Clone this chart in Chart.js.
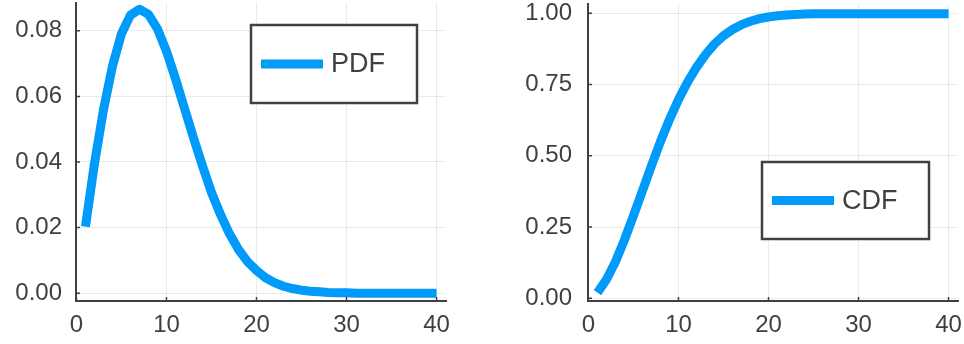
<!DOCTYPE html>
<html>
<head>
<meta charset="utf-8">
<script src="https://cdn.jsdelivr.net/npm/chart.js@4/dist/chart.umd.min.js"></script>
<style>
  html, body { margin: 0; padding: 0; background: #ffffff; }
  #wrap { position: relative; width: 964px; height: 344px; overflow: hidden; }
  .panel { position: absolute; top: 0; width: 482px; height: 344px; }
</style>
</head>
<body>
<div id="wrap">
  <div class="panel" style="left:0"><canvas id="pdfChart" width="482" height="344"></canvas></div>
  <div class="panel" style="left:482px"><canvas id="cdfChart" width="482" height="344"></canvas></div>
</div>
<script>
// sample points
const xValues = [1, 2, 3, 4, 5, 6, 7, 8, 9, 10,
                 11, 12, 13, 14, 15, 16, 17, 18, 19, 20,
                 21, 22, 23, 24, 25, 26, 27, 28, 29, 30,
                 31, 32, 33, 34, 35, 36, 37, 38, 39, 40];

const pdfValues = [0.0203, 0.0395, 0.0559, 0.0692, 0.0791, 0.0848, 0.0866, 0.0850, 0.0806, 0.0738,
                   0.0654, 0.0564, 0.0474, 0.0388, 0.0307, 0.0240, 0.0181, 0.0133, 0.0096, 0.0069,
                   0.0047, 0.0032, 0.0021, 0.0014, 0.0009, 0.0006, 0.0004, 0.0002, 0.0001, 0.0001,
                   0.0000, 0.0000, 0.0000, 0.0000, 0.0000, 0.0000, 0.0000, 0.0000, 0.0000, 0.0000];

const cdfValues = [0.020, 0.066, 0.128, 0.205, 0.290, 0.377, 0.465, 0.550, 0.627, 0.697,
                   0.758, 0.810, 0.855, 0.892, 0.921, 0.943, 0.960, 0.972, 0.981, 0.987,
                   0.991, 0.994, 0.996, 0.997, 0.998, 0.998, 0.998, 0.998, 0.998, 0.998,
                   0.998, 0.998, 0.998, 0.998, 0.998, 0.998, 0.998, 0.998, 0.998, 0.998];

// axis ticks
const xTicks = [0, 10, 20, 30, 40];
const pdfTicks = [0.00, 0.02, 0.04, 0.06, 0.08];
const cdfTicks = [0.00, 0.25, 0.50, 0.75, 1.00];

const LINE = '#009AFA';
const INK = '#404040';
const GRID = 'rgba(0,0,0,0.08)';
const FONT = "'Liberation Sans', Arial, Helvetica, sans-serif";

function points(ys) {
  return xValues.map((x, i) => ({ x: x, y: ys[i] }));
}

// short tick marks pointing into the plot area
const innerTicks = {
  id: 'innerTicks',
  afterDraw(chart) {
    const { ctx, chartArea: a, scales: { x, y } } = chart;
    ctx.save();
    ctx.strokeStyle = INK;
    ctx.lineWidth = 1.5;
    ctx.beginPath();
    x.ticks.forEach(t => {
      const px = x.getPixelForValue(t.value);
      ctx.moveTo(px, a.bottom);
      ctx.lineTo(px, a.bottom - 4);
    });
    y.ticks.forEach(t => {
      const py = y.getPixelForValue(t.value);
      ctx.moveTo(a.left, py);
      ctx.lineTo(a.left + 4, py);
    });
    ctx.stroke();
    ctx.restore();
  }
};

// framed legend floating inside the plot area
const boxLegend = {
  id: 'boxLegend',
  afterDraw(chart, args, opts) {
    const { ctx } = chart;
    const { left, top, width, height } = opts;
    const label = chart.data.datasets[0].label;
    ctx.save();
    ctx.fillStyle = '#ffffff';
    ctx.fillRect(left, top, width, height);
    ctx.strokeStyle = INK;
    ctx.lineWidth = 2.5;
    ctx.strokeRect(left, top, width, height);
    const cy = top + height / 2;
    ctx.strokeStyle = LINE;
    ctx.lineWidth = 9;
    ctx.lineCap = 'butt';
    ctx.beginPath();
    ctx.moveTo(left + 10, cy);
    ctx.lineTo(left + 72, cy);
    ctx.stroke();
    ctx.fillStyle = INK;
    ctx.font = '27px ' + FONT;
    ctx.textAlign = 'left';
    ctx.textBaseline = 'middle';
    ctx.fillText(label, left + 80, cy + 1);
    ctx.restore();
  }
};

function makeChart(id, label, ys, yTicks, yMin, yMax, area, yPad, legend) {
  return new Chart(document.getElementById(id), {
    type: 'line',
    data: {
      datasets: [{
        label: label,
        data: points(ys),
        borderColor: LINE,
        borderWidth: 9,
        borderCapStyle: 'butt',
        borderJoinStyle: 'round',
        pointRadius: 0,
        fill: false,
        tension: 0
      }]
    },
    options: {
      responsive: false,
      animation: false,
      devicePixelRatio: 1,
      layout: { padding: { left: 0, top: area.top, right: area.right, bottom: 0 } },
      plugins: {
        legend: { display: false },
        tooltip: { enabled: false },
        boxLegend: legend
      },
      scales: {
        x: {
          type: 'linear',
          min: -0.05,
          max: 41.05,
          afterBuildTicks: s => { s.ticks = xTicks.map(v => ({ value: v })); },
          afterFit: s => { s.height = 344 - area.bottom; s.paddingLeft = 0; s.paddingRight = 0; },
          ticks: {
            autoSkip: false,
            maxRotation: 0,
            padding: 10,
            color: INK,
            font: { family: FONT, size: 24 },
            callback: v => String(v)
          },
          grid: { color: GRID, lineWidth: 1, drawTicks: false },
          border: { color: INK, width: 2 }
        },
        y: {
          type: 'linear',
          min: yMin,
          max: yMax,
          afterBuildTicks: s => { s.ticks = yTicks.map(v => ({ value: v })); },
          afterFit: s => { s.width = area.left; s.paddingTop = 0; s.paddingBottom = 0; },
          ticks: {
            autoSkip: false,
            padding: yPad,
            color: INK,
            font: { family: FONT, size: 24 },
            callback: v => Number(v).toFixed(2)
          },
          grid: { color: GRID, lineWidth: 1, drawTicks: false },
          border: { color: INK, width: 2 }
        }
      }
    },
    plugins: [innerTicks, boxLegend]
  });
}

makeChart('pdfChart', 'PDF', pdfValues, pdfTicks, -0.0024, 0.0885,
  { left: 76, top: 3, right: 36, bottom: 301 }, 14,
  { left: 251, top: 25, width: 166, height: 78 });

makeChart('cdfChart', 'CDF', cdfValues, cdfTicks, -0.0095, 1.0325,
  { left: 106, top: 4, right: 6, bottom: 301 }, 16,
  { left: 280, top: 162, width: 167, height: 77 });
</script>
</body>
</html>
